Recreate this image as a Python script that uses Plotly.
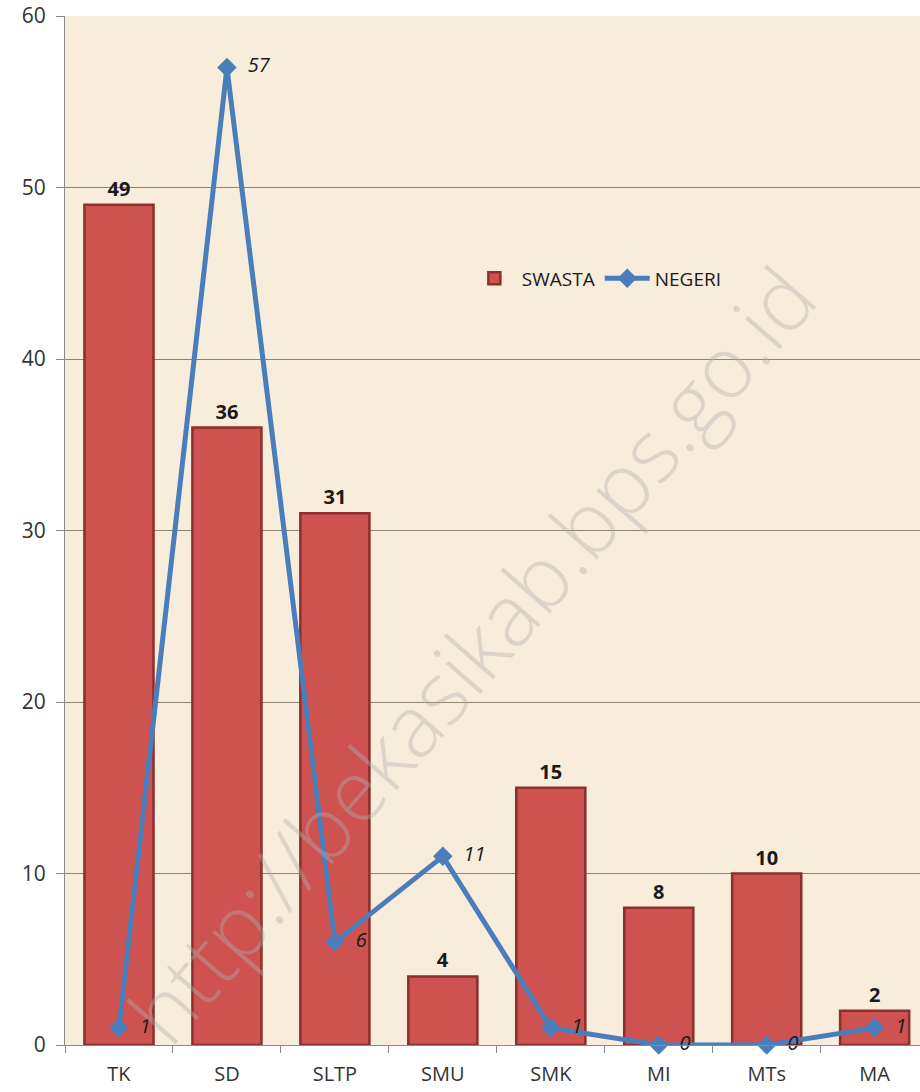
import plotly.graph_objects as go

categories = ["TK", "SD", "SLTP", "SMU", "SMK", "MI", "MTs", "MA"]
swasta = [49, 36, 31, 4, 15, 8, 10, 2]
negeri = [1, 57, 6, 11, 1, 0, 0, 1]
y_ticks = [0, 10, 20, 30, 40, 50, 60]

fig = go.Figure()

fig.add_trace(go.Bar(
    x=categories, y=swasta, name="SWASTA",
    width=0.64,
    marker=dict(color="#cd5250", line=dict(color="#8a302e", width=2.5)),
    text=[str(v) for v in swasta], textposition="outside",
    textfont=dict(family="Open Sans", size=20, color="#1a1a1a", weight="bold"),
    cliponaxis=False,
))

fig.add_trace(go.Scatter(
    x=categories, y=negeri, name="NEGERI",
    mode="lines+markers+text",
    line=dict(color="#4a7ebb", width=5),
    marker=dict(symbol="diamond", size=15, color="#4a7ebb"),
    text=["  " + str(v) for v in negeri], textposition="middle right",
    textfont=dict(family="Open Sans", size=20, color="#1a1a1a", style="italic"),
    cliponaxis=False,
))

fig.add_annotation(
    text="http://bekasikab.bps.go.id",
    xref="paper", yref="paper", x=0.475, y=0.38,
    showarrow=False, textangle=-49,
    font=dict(family="Open Sans", size=86, color="rgba(175,175,175,0.4)", weight=300),
)

fig.update_layout(
    width=920, height=1092,
    margin=dict(l=65, r=0, t=16, b=47),
    paper_bgcolor="white",
    plot_bgcolor="#f7edda",
    showlegend=True,
    legend=dict(
        orientation="h", x=0.47, y=0.745, xanchor="left", yanchor="middle",
        bgcolor="rgba(0,0,0,0)",
        font=dict(family="Open Sans", size=19, color="#1a1a1a"),
        itemwidth=45,
    ),
    xaxis=dict(
        type="category", range=[-0.5, 7.42],
        showline=True, linecolor="#8a8a8a", linewidth=1,
        ticks="outside", tickson="boundaries", ticklen=7, tickcolor="#8a8a8a",
        tickfont=dict(family="Open Sans", size=20, color="#333333"),
        ticklabelstandoff=11,
        showgrid=False,
    ),
    yaxis=dict(
        range=[0, 60], tickvals=y_ticks,
        showline=True, linecolor="#8a8a8a", linewidth=1,
        ticks="outside", ticklen=8, tickcolor="#8a8a8a",
        tickfont=dict(family="Open Sans", size=21, color="#333333"),
        ticklabelstandoff=6,
        showgrid=True, gridcolor="#8c8470", gridwidth=1,
        zeroline=False,
    ),
)

fig.write_html("out.html", config={"displayModeBar": False},
               post_script="document.body.style.margin='0px';")
